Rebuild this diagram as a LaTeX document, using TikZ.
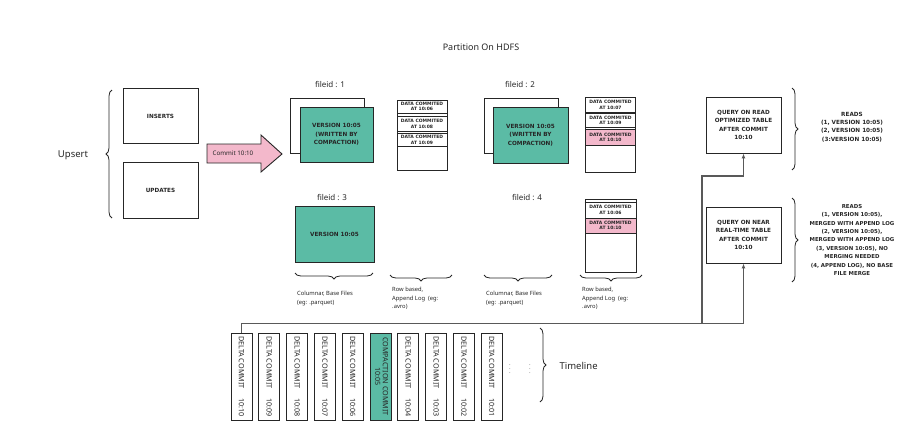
\documentclass[tikz,border=0pt]{standalone}
\usepackage{fontspec}
\setmainfont{Noto Sans}
\newfontfamily\capsfont{DejaVu Sans}
\usetikzlibrary{decorations.pathreplacing,arrows.meta}
\definecolor{hgreen}{HTML}{5BBBA5}
\definecolor{hpink}{HTML}{F3B8CB}
\definecolor{ink}{HTML}{262626}
\tikzset{
  box/.style={draw=ink, line width=0.9pt, fill=white, inner sep=0pt, align=center, text=ink},
  caps/.style={font=\capsfont\bfseries\fontsize{5.7}{8.4}\selectfont, text=ink},
  logtxt/.style={font=\capsfont\bfseries\fontsize{4.5}{5.3}\selectfont, text=ink},
  entry/.style={draw=ink, line width=0.7pt, inner sep=0pt, align=center, minimum width=50pt, logtxt},
  hand/.style={font=\fontsize{8}{10}\selectfont, text=ink},
  note/.style={font=\fontsize{5.8}{8.5}\selectfont, text=ink, align=left, anchor=north west, inner sep=0pt},
  brc/.style={decorate, decoration={brace, amplitude=6pt}, draw=ink, line width=0.8pt},
  conn/.style={draw=black!65, line width=1.1pt},
  arr/.style={conn, -{Latex[length=5pt,width=4pt]}},
  tbox/.style={box, minimum width=21pt, minimum height=87pt, font=\fontsize{7.2}{7.6}\selectfont}
}
\begin{document}
\begin{tikzpicture}[x=1pt,y=-1pt]
\useasboundingbox (0,0) rectangle (913,445);

% title
\node[font=\fontsize{9}{11}\selectfont, text=ink] (title) at (481,47) {Partition On HDFS};

% upsert
\node[font=\fontsize{9.5}{11}\selectfont, text=ink] (ups) at (73,155) {Upsert};
\draw[brc] (112,218) -- (112,90);
\node[box, caps, minimum width=75pt, minimum height=55pt] (ins) at (160.5,116) {INSERTS};
\node[box, caps, minimum width=75pt, minimum height=56pt] (upd) at (160.5,190) {UPDATES};

% commit arrow
\draw[draw=ink, line width=0.9pt, fill=hpink] (207,144) -- (261,144) -- (261,135) -- (282,154) -- (261,172) -- (261,163) -- (207,163) -- cycle;
\node[font=\fontsize{6.2}{7}\selectfont, text=ink] (commit) at (233,153.5) {Commit 10:10};

% fileid 1
\node[hand] (f1) at (330,84) {fileid : 1};
\node[box, minimum width=74pt, minimum height=55pt] (f1b) at (327,125.5) {};
\node[box, caps, fill=hgreen, minimum width=73pt, minimum height=55pt] (f1v) at (336.5,134.5) {VERSION 10:05\\(WRITTEN BY\\COMPACTION)};
\node[box, minimum width=50pt, minimum height=70pt] (l1) at (422,135) {};
\node[entry, minimum height=13.3pt] (l1a) at (422,106.7) {DATA COMMITED\\AT 10:06};
\node[entry, minimum height=14.3pt] (l1b) at (422,123.8) {DATA COMMITED\\AT 10:08};
\node[entry, minimum height=13.4pt] (l1c) at (422,140) {DATA COMMITED\\AT 10:09};

% fileid 2
\node[hand] (f2) at (520,84) {fileid : 2};
\node[box, minimum width=74pt, minimum height=55pt] (f2b) at (521,125.5) {};
\node[box, caps, fill=hgreen, minimum width=75pt, minimum height=56pt] (f2v) at (530.5,135) {VERSION 10:05\\(WRITTEN BY\\COMPACTION)};
\node[box, minimum width=50pt, minimum height=75pt] (l2) at (610.5,134.8) {};
\node[entry, minimum height=15pt] (l2a) at (610.5,104.8) {DATA COMMITED\\AT 10:07};
\node[entry, minimum height=14.4pt] (l2b) at (610.5,120.5) {DATA COMMITED\\AT 10:09};
\node[entry, fill=hpink, minimum height=16.7pt] (l2c) at (610.5,137.4) {DATA COMMITED\\AT 10:10};

% fileid 3
\node[hand] (f3) at (332,197) {fileid : 3};
\node[box, caps, fill=hgreen, minimum width=79pt, minimum height=56pt] (f3v) at (334.5,234) {VERSION 10:05};

% fileid 4
\node[hand] (f4) at (527,197) {fileid : 4};
\node[box, minimum width=51pt, minimum height=73pt] (l4) at (610.5,235.5) {};
\draw[draw=ink, line width=0.7pt] (l4.west |- 0,202) -- (l4.east |- 0,202);
\node[entry, minimum width=51pt, minimum height=16pt] (l4a) at (610.5,210) {DATA COMMITED\\AT 10:06};
\node[entry, minimum width=51pt, fill=hpink, minimum height=15pt] (l4b) at (610.5,225.5) {DATA COMMITED\\AT 10:10};

% braces under files
\draw[brc] (373,273) -- (295,273);
\draw[brc] (452,275) -- (390,275);
\draw[brc] (552,275) -- (484,275);
\draw[brc] (642,275) -- (580,275);
\node[note] (n1) at (297,291) {Columnar, Base Files\\(eg: .parquet)};
\node[note] (n2) at (392,287) {Row based,\\Append Log\ \ (eg:\\.avro)};
\node[note] (n3) at (486,291) {Columnar, Base Files\\(eg: .parquet)};
\node[note] (n4) at (582,287) {Row based,\\Append Log\ \ (eg:\\.avro)};

% queries
\node[box, caps, minimum width=75pt, minimum height=56pt] (qb1) at (743.5,125) {QUERY ON READ\\OPTIMIZED TABLE\\AFTER COMMIT\\10:10};
\node[box, caps, minimum width=75pt, minimum height=56pt] (qb2) at (743.5,235) {QUERY ON NEAR\\REAL-TIME TABLE\\AFTER COMMIT\\10:10};
\draw[brc] (792,88) -- (792,170);
\draw[brc] (792,198) -- (792,282);
\node[caps, align=center] (r1) at (852,127) {READS\\(1, VERSION 10:05)\\(2, VERSION 10:05)\\(3:VERSION 10:05)};
\node[caps, align=center, font=\capsfont\bfseries\fontsize{5.4}{8.4}\selectfont] (r2) at (852,240) {READS\\(1, VERSION 10:05),\\MERGED WITH APPEND LOG\\(2, VERSION 10:05),\\MERGED WITH APPEND LOG\\(3, VERSION 10:05), NO\\MERGING NEEDED\\(4, APPEND LOG), NO BASE\\FILE MERGE};

% timeline
\foreach \t [count=\n] in {10:10,10:09,10:08,10:07,10:06}
  \node[tbox] (t\n) at ({241.5+27.8*(\n-1)},376.5) {\rotatebox{-90}{DELTA COMMIT\hspace{10pt}\t}};
\node[tbox, fill=hgreen] (t6) at (380.5,376.5) {\rotatebox{-90}{\begin{tabular}{@{}c@{}}COMPACTION COMMIT\\10:05\end{tabular}}};
\foreach \t [count=\n from 7] in {10:04,10:03,10:02,10:01}
  \node[tbox] (t\n) at ({241.5+27.8*(\n-1)},376.5) {\rotatebox{-90}{DELTA COMMIT\hspace{10pt}\t}};
\node[font=\fontsize{6}{6}\selectfont, text=black!60] (d1) at (510,366) {$\vdots$};
\node[font=\fontsize{6}{6}\selectfont, text=black!60] (d2) at (530,366) {$\vdots$};
\draw[brc] (540,328) -- (540,402);
\node[hand, anchor=west, font=\fontsize{9.5}{11}\selectfont] (tl) at (556,366) {Timeline};

% connectors
\coordinate (j) at (702,324);
\coordinate (k) at (702,176);
\draw[arr] (t1.north) -- ++(0,-9) -| (qb2.south);
\draw[arr] (j) -- (k) -| (qb1.south);
\end{tikzpicture}
\end{document}
